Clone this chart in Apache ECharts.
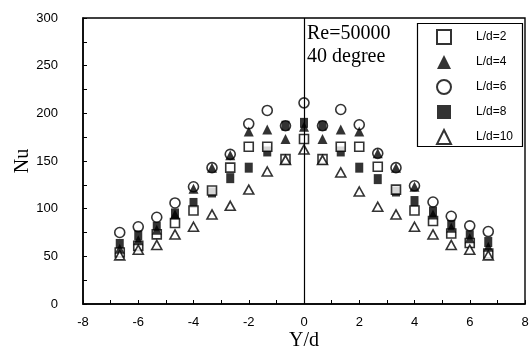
<!DOCTYPE html>
<html><head><meta charset="utf-8">
<script src="https://cdn.jsdelivr.net/npm/echarts@6/dist/echarts.min.js"></script>
<style>html,body{margin:0;padding:0;background:#fff}#c{width:529px;height:352px}</style>
</head><body><div id="c"></div>
<script>
// Y/d positions of the measurement stations
const yOverD = [-6.67,-6,-5.33,-4.67,-4,-3.33,-2.67,-2,-1.33,-0.67,0,0.67,1.33,2,2.67,3.33,4,4.67,5.33,6,6.67];
// Nu values for each L/d
const nuLd2  = [54,61,73,85,98,119,143,165,165,152,173,152,165,165,144,120,98,87,74,64,53];
const nuLd4  = [58,67,78,94,121,143,156,181,183,173,186,173,183,181,158,143,123,94,80,69,60];
const nuLd6  = [75,81,91,106,123,143,157,189,203,187,211,187,204,188,158,143,124,107,92,82,76];
const nuLd8  = [63,72,81,95,106,117,132,143,160,187,190,187,160,143,131,118,108,97,83,72,65];
const nuLd10 = [51,57,62,73,81,94,103,120,139,151,162,151,138,118,102,94,81,73,62,57,51];
// axis ticks
const xTicks = [-8,-6,-4,-2,0,2,4,6,8];
const yTicks = [0,50,100,150,200,250,300];
const legendNames = ['L/d=2','L/d=4','L/d=6','L/d=8','L/d=10'];

const pairs = arr => yOverD.map((x,i)=>[x,arr[i]]);
const serif = 'Liberation Serif, Times New Roman, serif';
const sans = 'Liberation Sans, Arial, sans-serif';
const openStyle = {color:'#fff', borderColor:'#000', borderWidth:1.6};
const fillStyle = {color:'#000', borderColor:'#000', borderWidth:0};
const xRange = {min:xTicks[0], max:xTicks[xTicks.length-1], interval:xTicks[1]-xTicks[0]};
const yRange = {min:yTicks[0], max:yTicks[yTicks.length-1], interval:yTicks[1]-yTicks[0]};

const chart = echarts.init(document.getElementById('c'), null, {renderer:'canvas'});
chart.setOption({
  animation:false,
  backgroundColor:'#fff',
  grid:{left:83,right:4,top:18,bottom:48,outerBoundsMode:'none',containLabel:false,
        show:true,borderColor:'#000',borderWidth:1.4,backgroundColor:'rgba(0,0,0,0)'},
  xAxis:{
    type:'value', ...xRange,
    name:'Y/d', nameLocation:'middle', nameGap:27, nameMoveOverlap:false,
    nameTextStyle:{fontFamily:serif,fontSize:20,color:'#000'},
    axisLine:{onZero:false,lineStyle:{color:'#000',width:1.5}},
    axisTick:{inside:true,length:4,lineStyle:{color:'#000'}},
    minorTick:{show:true,splitNumber:2,length:4,lineStyle:{color:'#000'}},
    splitLine:{show:false},
    axisLabel:{fontFamily:sans,fontSize:13,color:'#000',margin:12,hideOverlap:false}
  },
  yAxis:{
    type:'value', ...yRange,
    name:'Nu', nameLocation:'middle', nameGap:50, nameRotate:90, nameMoveOverlap:false,
    nameTextStyle:{fontFamily:serif,fontSize:20,color:'#000'},
    axisLine:{show:true,onZero:false,lineStyle:{color:'#000',width:1.5}},
    axisTick:{inside:true,length:4,lineStyle:{color:'#000'}},
    minorTick:{show:true,splitNumber:2,length:4,lineStyle:{color:'#000'}},
    splitLine:{show:false},
    axisLabel:{fontFamily:sans,fontSize:13,color:'#000',margin:25}
  },
  legend:{
    orient:'vertical', left:436, top:29, padding:0,
    itemWidth:14, itemHeight:14, itemGap:10,
    data:legendNames,
    textStyle:{fontFamily:sans,fontSize:12,color:'#000',padding:[0,0,0,20]}
  },
  graphic:[
    {type:'rect',left:415,top:21,shape:{width:105,height:123},style:{fill:'none',stroke:'#000',lineWidth:1.2},z:100},
    {type:'text',left:307,top:24,style:{text:'Re=50000',font:'20px '+serif,fill:'#000'}},
    {type:'text',left:307,top:47,style:{text:'40 degree',font:'20px '+serif,fill:'#000'}}
  ],
  series:[
    {name:'L/d=6',type:'scatter',symbol:'circle',symbolSize:10,itemStyle:openStyle,data:pairs(nuLd6),
     markLine:{silent:true,symbol:'none',label:{show:false},lineStyle:{color:'#000',width:1.2,type:'solid'},data:[{xAxis:0}]}},
    {name:'L/d=8',type:'scatter',symbol:'rect',symbolSize:[8,10],itemStyle:fillStyle,data:pairs(nuLd8)},
    {name:'L/d=2',type:'scatter',symbol:'rect',symbolSize:9,itemStyle:openStyle,data:pairs(nuLd2)},
    {name:'L/d=4',type:'scatter',symbol:'triangle',symbolSize:10,itemStyle:fillStyle,data:pairs(nuLd4)},
    {name:'L/d=10',type:'scatter',symbol:'triangle',symbolSize:[10,9],itemStyle:openStyle,data:pairs(nuLd10)}
  ]
});
</script></body></html>
